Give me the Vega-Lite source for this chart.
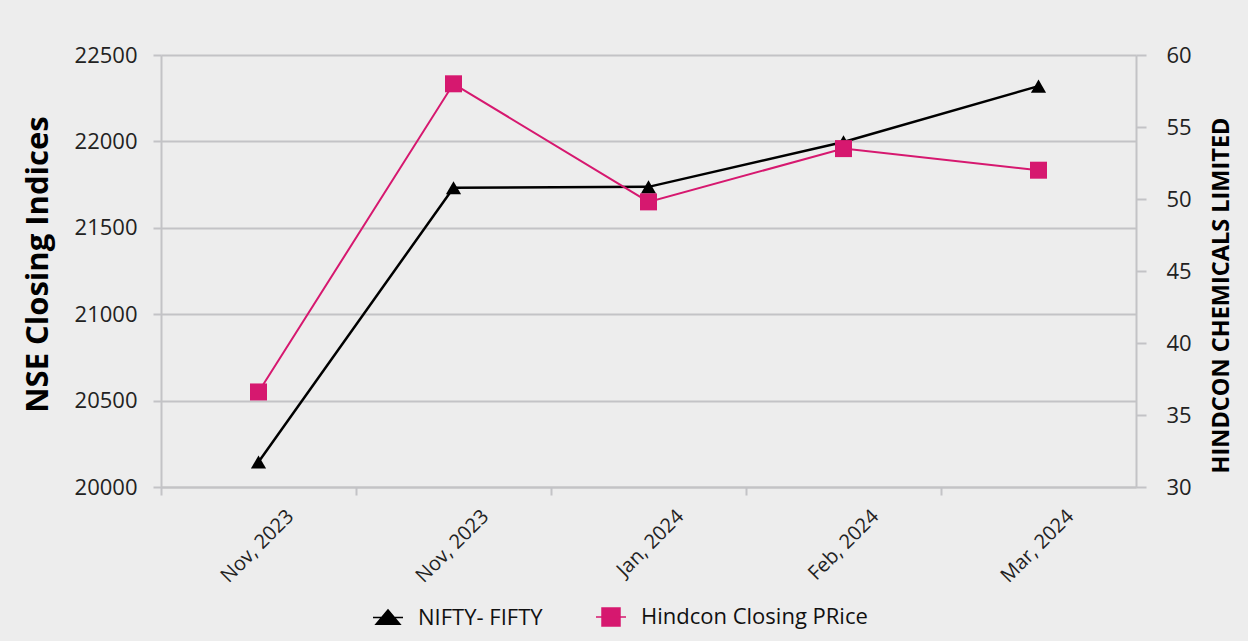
{
  "$schema": "https://vega.github.io/schema/vega-lite/v6.json",
  "width": 975,
  "height": 432,
  "autosize": {"type": "none"},
  "padding": {"left": 161, "top": 55, "right": 112, "bottom": 154},
  "background": "#ededed",
  "config": {
    "view": {"stroke": null},
    "font": "Open Sans",
    "axis": {
      "labelFont": "Open Sans",
      "titleFont": "Open Sans",
      "labelColor": "#222222",
      "titleColor": "#000000",
      "labelFontSize": 22,
      "domainColor": "#c3c3c6",
      "domainWidth": 2,
      "tickColor": "#c3c3c6",
      "tickWidth": 2,
      "gridColor": "#c3c3c6",
      "gridWidth": 2
    }
  },
  "data": {
    "values": [
      {"month": "Nov, 2023", "nifty": 20145, "hindcon": 36.6},
      {"month": "Nov, 2023 ", "nifty": 21732, "hindcon": 58.0},
      {"month": "Jan, 2024", "nifty": 21737, "hindcon": 49.8},
      {"month": "Feb, 2024", "nifty": 21997, "hindcon": 53.5},
      {"month": "Mar, 2024", "nifty": 22320, "hindcon": 52.0}
    ]
  },
  "encoding": {
    "x": {
      "field": "month",
      "type": "ordinal",
      "sort": null,
      "scale": {"type": "band", "paddingInner": 0, "paddingOuter": 0},
      "axis": {
        "title": null,
        "grid": false,
        "bandPosition": 0,
        "labelAngle": -45,
        "labelAlign": "right",
        "labelBaseline": "middle",
        "labelOffset": 32,
        "labelPadding": 18,
        "labelFontSize": 20,
        "tickSize": 8
      }
    }
  },
  "layer": [
    {
      "encoding": {
        "y": {
          "field": "nifty",
          "type": "quantitative",
          "scale": {"domain": [20000, 22500], "nice": false, "zero": false},
          "axis": {
            "orient": "left",
            "title": "NSE Closing Indices",
            "titleFontSize": 31,
            "titleFontWeight": "bold",
            "titlePadding": 20,
            "titleY": 209,
            "values": [20000, 20500, 21000, 21500, 22000, 22500],
            "format": "d",
            "grid": true,
            "tickSize": 8,
            "labelPadding": 16
          }
        },
        "color": {
          "datum": "NIFTY- FIFTY",
          "type": "nominal",
          "scale": {
            "domain": ["NIFTY- FIFTY", "Hindcon Closing PRice"],
            "range": ["#000000", "#d6186f"]
          },
          "legend": {
            "orient": "none",
            "legendX": 211,
            "legendY": 546,
            "direction": "horizontal",
            "title": null,
            "labelFont": "Open Sans",
            "labelFontSize": 22,
            "labelColor": "#111111",
            "labelLimit": 500,
            "symbolSize": 900,
            "symbolStrokeWidth": 1.5,
            "labelOffset": 14,
            "columnPadding": 50,
            "encode": {
              "symbols": {
                "update": {
                  "shape": {"signal": "datum.value === 'NIFTY- FIFTY' ? 'M-1,0H1M-0.8,0.45L0,-0.5L0.8,0.45Z' : 'M-1,0H1M-0.6,-0.6H0.6V0.6H-0.6Z'"},
                  "fill": {"signal": "datum.value === 'NIFTY- FIFTY' ? '#000000' : '#d6186f'"},
                  "stroke": {"signal": "datum.value === 'NIFTY- FIFTY' ? '#000000' : '#d6186f'"},
                  "opacity": {"value": 1}
                }
              }
            }
          }
        }
      },
      "layer": [
        {"mark": {"type": "line", "strokeWidth": 2.5}},
        {"mark": {"type": "point", "shape": "triangle-up", "filled": true, "size": 230, "opacity": 1}}
      ]
    },
    {
      "encoding": {
        "y": {
          "field": "hindcon",
          "type": "quantitative",
          "scale": {"domain": [30, 60], "nice": false, "zero": false},
          "axis": {
            "orient": "right",
            "title": "HINDCON CHEMICALS LIMITED",
            "titleFontSize": 23.5,
            "titleFontWeight": "bold",
            "titleAngle": 270,
            "titlePadding": 42,
            "titleY": 240,
            "values": [30, 35, 40, 45, 50, 55, 60],
            "grid": false,
            "tickSize": 10,
            "labelPadding": 20
          }
        },
        "color": {"datum": "Hindcon Closing PRice", "type": "nominal"}
      },
      "layer": [
        {"mark": {"type": "line", "strokeWidth": 2}},
        {"mark": {"type": "point", "shape": "square", "filled": true, "size": 289, "opacity": 1}}
      ]
    }
  ],
  "resolve": {"scale": {"y": "independent"}}
}
